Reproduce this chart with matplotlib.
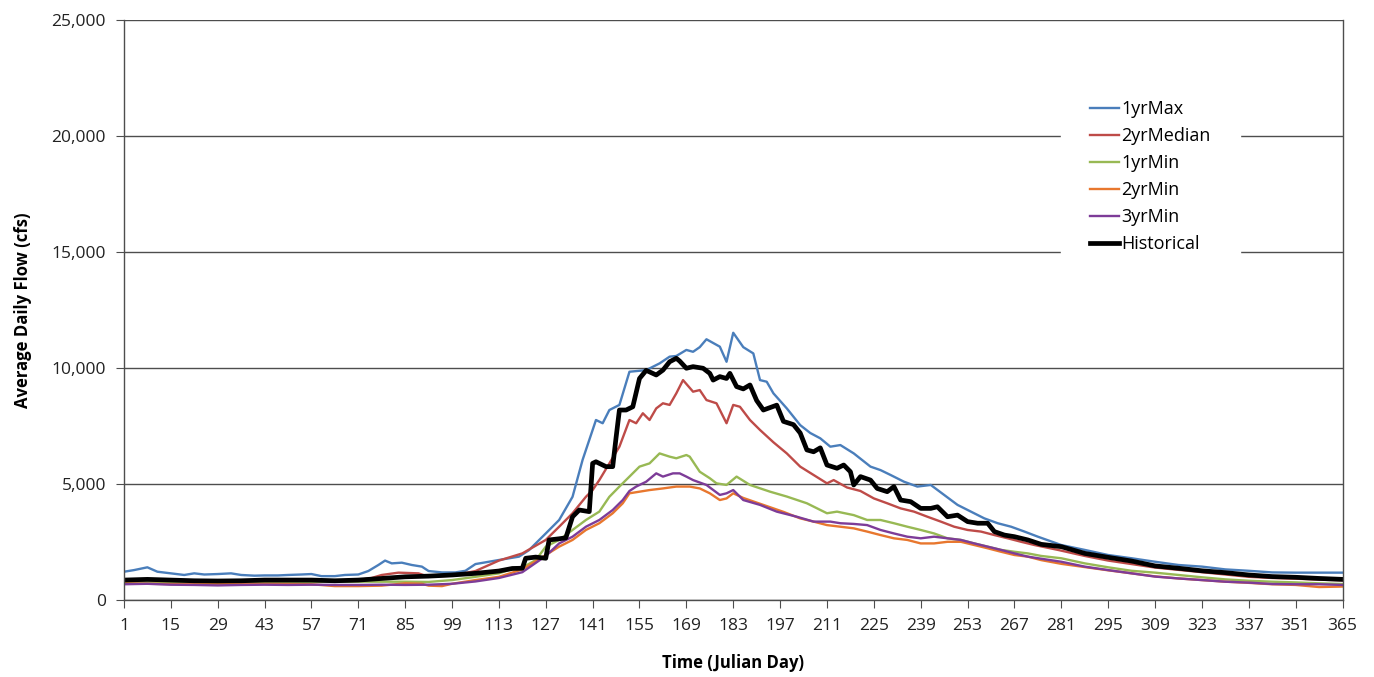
import matplotlib.pyplot as plt
from matplotlib.ticker import FuncFormatter

plt.rcParams['font.family'] = ['Open Sans', 'DejaVu Sans']

# 1yrMax
max_days = [1, 4, 8, 11, 15, 19, 22, 25, 29, 33, 36, 40, 43, 47, 50, 54, 57, 60, 64, 67,
            71, 74, 77, 79, 81, 84, 87, 90, 92, 96, 100, 103, 106, 110, 114, 119, 122, 124,
            127, 131, 135, 138, 142, 144, 146, 149, 152, 157, 161, 164, 166, 169, 171, 173,
            175, 179, 181, 183, 186, 189, 191, 193, 195, 199, 203, 206, 209, 212, 215, 219,
            224, 227, 230, 234, 238, 242, 246, 250, 254, 258, 262, 266, 270, 274, 281, 288,
            295, 302, 309, 316, 323, 330, 337, 344, 351, 358, 365]
max_flow = [1220, 1290, 1410, 1220, 1150, 1080, 1150, 1100, 1120, 1150, 1080, 1050, 1060,
            1060, 1080, 1100, 1120, 1030, 1030, 1080, 1100, 1250, 1510, 1700, 1580, 1610,
            1510, 1440, 1250, 1190, 1190, 1260, 1550, 1650, 1750, 1870, 2150, 2440, 2870,
            3450, 4450, 6040, 7760, 7620, 8190, 8410, 9840, 9910, 10200, 10490, 10520, 10780,
            10700, 10900, 11240, 10920, 10270, 11520, 10900, 10630, 9480, 9410, 8910, 8260,
            7540, 7200, 6970, 6610, 6680, 6320, 5750, 5600, 5390, 5100, 4890, 4960, 4530,
            4100, 3810, 3520, 3310, 3160, 2950, 2730, 2370, 2160, 1940, 1800, 1650, 1510,
            1440, 1320, 1260, 1190, 1180, 1180, 1180]

# 2yrMedian
med_days = [1, 8, 15, 22, 29, 36, 43, 50, 57, 64, 71, 75, 78, 83, 89, 92, 99, 106, 113, 120,
            127, 131, 135, 139, 141, 143, 146, 149, 152, 154, 156, 158, 160, 162, 164, 166,
            168, 171, 173, 175, 178, 181, 183, 185, 188, 191, 195, 199, 203, 207, 211, 213,
            217, 221, 225, 229, 233, 237, 241, 245, 249, 253, 257, 261, 265, 269, 273, 280,
            288, 295, 302, 309, 316, 323, 330, 337, 344, 351, 358, 365]
med_flow = [830, 820, 800, 790, 780, 790, 800, 810, 820, 800, 860, 950, 1080, 1180, 1150, 1000,
            1050, 1250, 1700, 2010, 2590, 3160, 3740, 4450, 4740, 5170, 5890, 6610, 7760, 7620,
            8050, 7760, 8260, 8480, 8410, 8910, 9480, 8980, 9050, 8620, 8480, 7620, 8410, 8330,
            7760, 7330, 6800, 6320, 5750, 5390, 5030, 5170, 4850, 4700, 4380, 4170, 3950, 3810,
            3590, 3380, 3160, 3020, 2950, 2800, 2660, 2510, 2370, 2160, 1900, 1700, 1550, 1400,
            1300, 1200, 1100, 1000, 950, 920, 880, 850]

# 1yrMin
min1_days = [1, 15, 29, 43, 57, 71, 85, 92, 99, 106, 113, 116, 120, 124, 127, 131, 135, 139,
             143, 146, 149, 152, 155, 158, 161, 164, 166, 169, 170, 173, 176, 178, 181, 184,
             188, 194, 199, 205, 211, 214, 219, 223, 227, 231, 235, 239, 243, 247, 251, 255,
             259, 263, 267, 271, 275, 281, 288, 295, 302, 309, 316, 323, 330, 337, 344, 351,
             358, 365]
min1_flow = [780, 760, 740, 760, 780, 790, 790, 780, 860, 1000, 1150, 1290, 1400, 1720, 2300,
             2590, 3020, 3450, 3810, 4450, 4890, 5320, 5750, 5890, 6320, 6180, 6110, 6250, 6180,
             5530, 5250, 5030, 4960, 5320, 4960, 4670, 4460, 4170, 3740, 3810, 3660, 3450, 3450,
             3310, 3160, 3020, 2870, 2660, 2590, 2440, 2300, 2160, 2080, 2010, 1900, 1800, 1580,
             1410, 1260, 1180, 1080, 980, 890, 830, 790, 760, 720, 690]

# 2yrMin
min2_days = [1, 8, 15, 22, 29, 36, 43, 50, 57, 64, 71, 78, 85, 90, 92, 96, 99, 106, 113, 120,
             127, 131, 135, 139, 143, 147, 150, 152, 155, 158, 162, 166, 170, 173, 176, 179,
             181, 183, 186, 190, 194, 198, 203, 207, 211, 215, 219, 223, 227, 231, 235, 239,
             243, 247, 251, 255, 259, 263, 267, 271, 275, 281, 288, 295, 302, 309, 316, 323,
             330, 337, 344, 351, 358, 365]
min2_flow = [720, 700, 690, 680, 680, 690, 700, 690, 680, 600, 600, 620, 720, 700, 620, 600,
             700, 860, 1000, 1320, 1940, 2300, 2590, 3020, 3310, 3740, 4170, 4600, 4670, 4740,
             4810, 4890, 4890, 4810, 4600, 4310, 4380, 4600, 4400, 4200, 4000, 3800, 3520, 3380,
             3230, 3160, 3090, 2950, 2800, 2660, 2590, 2440, 2440, 2510, 2510, 2370, 2230, 2080,
             1940, 1870, 1720, 1560, 1420, 1280, 1150, 1020, 930, 860, 790, 740, 680, 650, 560,
             580]

# 3yrMin
min3_days = [1, 8, 15, 22, 29, 36, 43, 50, 57, 64, 71, 78, 85, 92, 99, 106, 113, 120, 127, 131,
             135, 139, 143, 147, 150, 152, 154, 157, 160, 162, 165, 167, 169, 171, 175, 179,
             181, 183, 186, 191, 196, 202, 207, 212, 215, 219, 223, 227, 231, 235, 239, 243,
             247, 251, 255, 259, 263, 267, 271, 275, 281, 288, 295, 302, 309, 316, 323, 330,
             337, 344, 351, 358, 365]
min3_flow = [680, 700, 660, 650, 630, 650, 660, 650, 660, 650, 650, 660, 650, 660, 700, 800, 950,
             1200, 1900, 2440, 2730, 3160, 3450, 3880, 4310, 4700, 4890, 5100, 5460, 5320, 5460,
             5460, 5320, 5170, 4960, 4530, 4600, 4740, 4310, 4100, 3810, 3590, 3380, 3380, 3310,
             3280, 3230, 3020, 2870, 2730, 2660, 2730, 2660, 2590, 2440, 2300, 2160, 2010, 1870,
             1780, 1650, 1440, 1290, 1150, 1010, 930, 860, 790, 750, 690, 680, 680, 650]

# Historical
hist_days = [1, 8, 15, 22, 29, 36, 43, 50, 57, 64, 71, 78, 85, 92, 99, 106, 113, 117, 120, 121,
             124, 127, 128, 131, 133, 135, 137, 140, 141, 142, 145, 147, 148, 149, 151, 153,
             155, 157, 160, 162, 164, 166, 167, 169, 171, 174, 176, 177, 179, 181, 182, 184,
             186, 188, 190, 192, 196, 198, 201, 203, 205, 207, 209, 211, 214, 216, 218, 219,
             221, 224, 226, 229, 231, 233, 236, 239, 242, 244, 247, 250, 253, 256, 259, 261,
             264, 267, 271, 275, 281, 288, 295, 302, 309, 316, 323, 330, 337, 344, 351, 358, 365]
hist_flow = [860, 890, 860, 830, 820, 830, 860, 860, 860, 830, 860, 930, 1000, 1030, 1080, 1150,
             1250, 1360, 1370, 1800, 1850, 1800, 2590, 2640, 2680, 3590, 3880, 3810, 5890, 5960,
             5750, 5750, 7000, 8190, 8190, 8330, 9550, 9900, 9700, 9910, 10270, 10420, 10300,
             9990, 10060, 9990, 9770, 9480, 9630, 9550, 9770, 9200, 9100, 9270, 8600, 8190, 8400,
             7700, 7560, 7200, 6470, 6390, 6560, 5820, 5680, 5820, 5530, 4960, 5320, 5170, 4810,
             4670, 4890, 4310, 4240, 3950, 3950, 4020, 3590, 3660, 3380, 3310, 3310, 2950, 2800,
             2730, 2590, 2400, 2300, 2010, 1840, 1680, 1470, 1370, 1260, 1180, 1080, 1010, 980,
             930, 890]

x_ticks = list(range(1, 366, 14))
y_ticks = [0, 5000, 10000, 15000, 20000, 25000]

fig = plt.figure(figsize=(13.74, 6.77), dpi=100)
ax = fig.add_axes([0.0902, 0.1137, 0.8869, 0.8567])

ax.plot(max_days, max_flow, color='#4A7EBB', lw=1.7, label='1yrMax')
ax.plot(med_days, med_flow, color='#BE4B48', lw=1.7, label='2yrMedian')
ax.plot(min1_days, min1_flow, color='#98B954', lw=1.7, label='1yrMin')
ax.plot(min2_days, min2_flow, color='#E8772E', lw=1.7, label='2yrMin')
ax.plot(min3_days, min3_flow, color='#7D3C98', lw=1.7, label='3yrMin')
ax.plot(hist_days, hist_flow, color='black', lw=3.4, label='Historical')

ax.set_xlim(1, 365)
ax.set_ylim(0, 25000)
ax.set_xticks(x_ticks)
ax.set_yticks(y_ticks)
ax.yaxis.set_major_formatter(FuncFormatter(lambda v, p: f'{int(v):,}'))
ax.grid(axis='y', color='#4d4d4d', lw=1.0)
ax.set_axisbelow(True)

for s in ['left', 'bottom', 'right']:
    ax.spines[s].set_color('#4d4d4d')
    ax.spines[s].set_linewidth(1.0)
ax.spines['top'].set_visible(False)
ax.tick_params(axis='both', direction='out', length=6, color='#4d4d4d',
               labelsize=12.5, labelcolor='#222222', pad=7)

ax.set_xlabel('Time (Julian Day)', fontsize=12, fontweight='bold', labelpad=14)
ax.set_ylabel('Average Daily Flow (cfs)', fontsize=12, fontweight='bold', labelpad=14)

leg = ax.legend(loc='upper left', bbox_to_anchor=(0.769, 0.912), frameon=True,
                fontsize=13, handlelength=1.6, handletextpad=0.15,
                labelspacing=0.5, borderpad=1.6, borderaxespad=0)
leg.get_frame().set_edgecolor('white')
leg.get_frame().set_facecolor('white')
leg.get_frame().set_alpha(1)
leg.get_frame().set_boxstyle('square', pad=0)

fig.savefig('out.png', dpi=100)
